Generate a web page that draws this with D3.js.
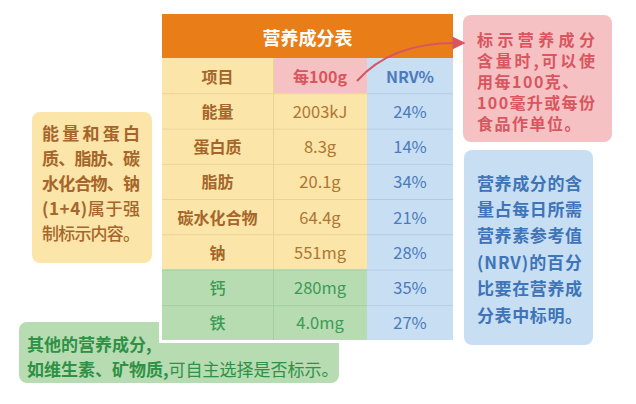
<!DOCTYPE html>
<html><head><meta charset="utf-8">
<script src="https://cdn.jsdelivr.net/npm/d3@7"></script>
<style>
html,body{margin:0;padding:0;background:#fff;}
svg{display:block;font-family:"Noto Sans CJK SC","Noto Sans",sans-serif;}
</style></head>
<body>
<svg id="c" width="636" height="404"></svg>
<script>
// ---- data ----
const title = "营养成分表";
const headers = ["项目", "每100g", "NRV%"];
const items = ["能量", "蛋白质", "脂肪", "碳水化合物", "钠", "钙", "铁"];
const per100g = ["2003kJ", "8.3g", "20.1g", "64.4g", "551mg", "280mg", "4.0mg"];
const nrv = [24, 14, 34, 21, 28, 35, 27];
const mandatory = [true, true, true, true, true, false, false];

const noteLeft = [
  [["能量和蛋白", 700]],
  [["质、脂肪、碳", 700]],
  [["水化合物、钠", 700]],
  [["(1+4)", 700], ["属于强", 500]],
  [["制标示内容。", 500]]
];
const notePink = [["标示营养成分", true], ["含量时,可以使", true], ["用每100克、", false], ["100毫升或每份", true], ["食品作单位。", false]];
const noteBlue = ["营养成分的含", "量占每日所需", "营养素参考值", "(NRV)的百分", "比要在营养成", "分表中标明。"];
const noteGreen = [
  [["其他的营养成分,", 700]],
  [["如维生素、矿物质,", 700], ["可自主选择是否标示。", 400]]
];

// ---- colours ----
const C = {
  orange: "#e97e18", yellow: "#fce5a8", pink: "#f6c1c2", blue: "#c8def3", green: "#b7dcb2",
  brown: "#a5652b", brownVal: "#ad7635", red: "#d9555f", blueTxt: "#4c7bbb", greenTxt: "#3e9a55",
  greenDark: "#2f9146", blueNote: "#3e74b8"
};

const svg = d3.select("#c");

// ---- layout scales ----
const tx0 = 162, tx1 = 453, tTop = 14, tHead = 58, tBot = 340;
const y = d3.scaleBand().domain(["__header", ...items]).range([tHead, tBot]);
const colX = d3.scaleOrdinal().domain(headers).range([162, 273, 367]);
const colW = d3.scaleOrdinal().domain(headers).range([111, 94, 86]);

function rbox(x, yy, w, h, fill) {
  svg.append("rect").attr("x", x).attr("y", yy).attr("width", w).attr("height", h)
    .attr("rx", 8).attr("fill", fill);
}

// ---- green note (behind table) ----
rbox(19, 322, 320, 61, C.green);
const gText = svg.append("g").attr("fill", C.greenDark).attr("font-size", 17);
noteGreen.forEach((line, i) => {
  const t = gText.append("text").attr("x", 27).attr("y", 343 + i * 25).attr("dominant-baseline", "central");
  line.forEach(([s, w]) => t.append("tspan").attr("font-weight", w).text(s));
});

// ---- table ----
svg.append("rect").attr("x", tx0 - 3).attr("y", tTop - 3).attr("width", tx1 - tx0 + 6)
  .attr("height", tBot - tTop + 6).attr("fill", "#fff");
svg.append("rect").attr("x", tx0).attr("y", tTop).attr("width", tx1 - tx0).attr("height", tHead - tTop)
  .attr("fill", C.orange);
svg.append("text").attr("x", (tx0 + tx1) / 2).attr("y", (tTop + tHead) / 2 + 1)
  .attr("text-anchor", "middle").attr("dominant-baseline", "central")
  .attr("fill", "#fff").attr("font-size", 18).attr("font-weight", 700).text(title);

// header row
const hdrFill = [C.yellow, C.pink, C.blue];
const hdrTxt = [C.brown, C.red, C.blueTxt];
headers.forEach((h, j) => {
  svg.append("rect").attr("x", colX(h)).attr("y", y("__header")).attr("width", colW(h))
    .attr("height", y.bandwidth()).attr("fill", hdrFill[j]);
  svg.append("text").attr("x", colX(h) + colW(h) / 2).attr("y", y("__header") + y.bandwidth() / 2)
    .attr("text-anchor", "middle").attr("dominant-baseline", "central")
    .attr("fill", hdrTxt[j]).attr("font-size", 16).attr("font-weight", 700).text(h);
});

// body rows
const rows = items.map((it, i) => ({ it, v: per100g[i], n: nrv[i], m: mandatory[i] }));
const rg = svg.selectAll("g.row").data(rows).join("g").attr("class", "row")
  .attr("transform", d => `translate(0,${y(d.it)})`);
rg.append("rect").attr("x", colX("项目")).attr("width", colW("项目") + colW("每100g"))
  .attr("height", y.bandwidth()).attr("fill", d => d.m ? C.yellow : C.green);
rg.append("rect").attr("x", colX("NRV%")).attr("width", colW("NRV%"))
  .attr("height", y.bandwidth()).attr("fill", C.blue);
// separators
rg.append("line").attr("x1", tx0).attr("x2", colX("NRV%")).attr("y1", 0.5).attr("y2", 0.5)
  .attr("stroke", d => d.m ? "#ecd293" : "#9fcb9c").attr("stroke-width", 1);
rg.append("line").attr("x1", colX("NRV%")).attr("x2", tx1).attr("y1", 0.5).attr("y2", 0.5)
  .attr("stroke", "#aecbe6").attr("stroke-width", 1);
rg.append("line").attr("x1", colX("每100g") + 0.5).attr("x2", colX("每100g") + 0.5)
  .attr("y1", 0).attr("y2", y.bandwidth())
  .attr("stroke", d => d.m ? "#ecd293" : "#a3cda0").attr("stroke-width", 1);
svg.append("line").attr("x1", colX("每100g") + 0.5).attr("x2", colX("每100g") + 0.5)
  .attr("y1", y("__header")).attr("y2", y("__header") + y.bandwidth()).attr("stroke", "#ecd293");

const cy = y.bandwidth() / 2;
rg.append("text").attr("x", colX("项目") + colW("项目") / 2).attr("y", cy)
  .attr("text-anchor", "middle").attr("dominant-baseline", "central").attr("font-size", 16)
  .attr("font-weight", d => d.m ? 700 : 500).attr("fill", d => d.m ? C.brown : C.greenTxt).text(d => d.it);
rg.append("text").attr("x", colX("每100g") + colW("每100g") / 2).attr("y", cy)
  .attr("text-anchor", "middle").attr("dominant-baseline", "central").attr("font-size", 16.5)
  .attr("fill", d => d.m ? C.brownVal : C.greenTxt).text(d => d.v);
rg.append("text").attr("x", colX("NRV%") + colW("NRV%") / 2).attr("y", cy)
  .attr("text-anchor", "middle").attr("dominant-baseline", "central").attr("font-size", 16.5)
  .attr("fill", C.blueTxt).text(d => d.n + "%");

// ---- left yellow note ----
rbox(32, 112, 120, 151, C.yellow);
const lt = svg.append("g").attr("fill", C.brown).attr("font-size", 17);
noteLeft.forEach((line, i) => {
  const t = lt.append("text").attr("x", 42).attr("y", 132 + i * 25).attr("dominant-baseline", "central")
    .attr("textLength", 98).attr("lengthAdjust", "spacing");
  line.forEach(([s, w]) => t.append("tspan").attr("font-weight", w).text(s));
});

// ---- pink note (one text block, justified lines via letter-spacing) ----
rbox(463, 15, 149, 127, C.pink);
const pt = svg.append("text").attr("fill", C.red).attr("font-size", 16).attr("font-weight", 700)
  .attr("dominant-baseline", "central");
notePink.forEach(([s, just], i) => {
  const ts = pt.append("tspan").attr("x", 477).attr("y", 39 + i * 21).text(s);
  const n = Array.from(s).length;
  const w = ts.node().getComputedTextLength();
  const ls = just ? (118 - w) / (n - 1) : 1.5;
  ts.attr("letter-spacing", ls);
});

// ---- blue note ----
rbox(464, 150, 129, 195, C.blue);
const bt = svg.append("g").attr("fill", C.blueNote).attr("font-size", 17).attr("font-weight", 700);
noteBlue.forEach((s, i) => {
  bt.append("text").attr("x", 477).attr("y", 182 + i * 26.4).attr("dominant-baseline", "central")
    .attr("textLength", 105).attr("lengthAdjust", "spacing").text(s);
});

// ---- arrow ----
const defs = svg.append("defs");
defs.append("marker").attr("id", "ah").attr("viewBox", "0 0 10 10").attr("refX", 2).attr("refY", 5)
  .attr("markerWidth", 6).attr("markerHeight", 6).attr("orient", "auto").attr("markerUnits", "strokeWidth")
  .append("path").attr("d", "M0,0 L10,5 L0,10 z").attr("fill", C.red);
const ap = d3.path();
ap.moveTo(357, 81);
ap.bezierCurveTo(380, 55, 415, 43, 455, 43);
svg.append("path").attr("d", ap.toString()).attr("fill", "none").attr("stroke", C.red)
  .attr("stroke-width", 2.2).attr("marker-end", "url(#ah)");
</script>
</body></html>
